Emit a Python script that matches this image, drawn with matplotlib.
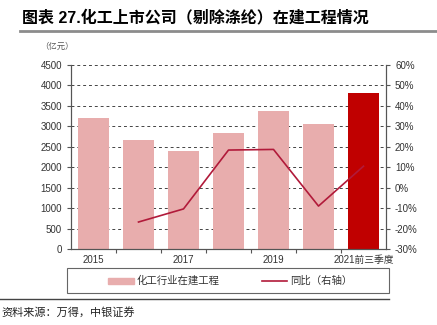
import matplotlib.pyplot as plt
import matplotlib.patches as patches
import matplotlib.lines as mlines

plt.rcParams['font.family'] = ['Liberation Sans', 'Noto Sans CJK SC', 'DejaVu Sans']

years = ["2015", "2016", "2017", "2018", "2019", "2020", "2021前三季度"]
construction = [3200, 2670, 2400, 2840, 3375, 3060, 3815]  # 亿元
yoy_years = ["2016", "2017", "2018", "2019", "2020", "2021前三季度"]
yoy = [-16.8, -10.4, 18.4, 18.7, -9.0, 10.5]  # %

bar_color = "#E8ADAD"
last_color = "#C00000"
line_color = "#B11A3A"
axis_color = "#555555"

fig = plt.figure(figsize=(4.37, 3.25), dpi=100)
ax = fig.add_axes([71 / 437, 1 - 249 / 325, 315 / 437, 184 / 325])

xs = list(range(len(years)))
colors = [bar_color] * (len(years) - 1) + [last_color]
ax.bar(xs, construction, width=0.67, color=colors, zorder=2)
ax.set_ylim(0, 4500)
ax.set_yticks(range(0, 4501, 500))
ax.set_xlim(-0.5, len(years) - 0.5)
ax.yaxis.grid(True, linestyle=(0, (3, 3)), color="#444444", linewidth=0.7, zorder=0)
ax.set_axisbelow(True)

# ticks sit between categories, labels sit on every other category
ax.set_xticks([x + 0.5 for x in xs[:-1]])
ax.set_xticklabels([])
ax.tick_params(axis="x", which="major", length=3, color=axis_color)
ax.set_xticks(xs[::2], minor=True)
ax.set_xticklabels(years[::2], minor=True)
ax.tick_params(axis="x", which="minor", length=0, pad=4, labelsize=7, labelcolor="#333333")
ax.tick_params(axis="y", length=3, color=axis_color, labelsize=7, labelcolor="#333333")

ax2 = ax.twinx()
ax2.plot([years.index(y) for y in yoy_years], yoy, color=line_color, linewidth=1.2, zorder=3)
ax2.set_ylim(-30, 60)
ax2.set_yticks(range(-30, 61, 10))
ax2.set_yticklabels([f"{v}%" for v in range(-30, 61, 10)])
ax2.tick_params(axis="y", length=3, color=axis_color, labelsize=7, labelcolor="#333333")

for a in (ax, ax2):
    a.spines["top"].set_visible(False)
    for s in ("left", "right", "bottom"):
        a.spines[s].set_color(axis_color)
        a.spines[s].set_linewidth(0.8)

# title and header rule
fig.text(22 / 437, 1 - 17 / 325, "图表 27.化工上市公司（剔除涤纶）在建工程情况",
         fontsize=11.5, fontweight="bold", va="center", ha="left",
         family=["Liberation Sans", "Noto Sans CJK SC"])
fig.add_artist(mlines.Line2D([20 / 437, 1], [1 - 31 / 325] * 2, color="#8C8C8C", linewidth=2))
fig.text(40 / 437, 1 - 46 / 325, "（亿元）", fontsize=6, color="#555555", va="center", ha="left",
         family=["Noto Sans CJK SC"])

# legend box
fig.add_artist(patches.Rectangle((67 / 437, 1 - 293 / 325), 322 / 437, 25 / 325,
                                 transform=fig.transFigure, fill=False,
                                 edgecolor="#666666", linewidth=0.8))
ly = 1 - 281 / 325
fig.add_artist(patches.Rectangle((108 / 437, ly - 3 / 325), 26 / 437, 6 / 325,
                                 transform=fig.transFigure, color=bar_color))
fig.text(137 / 437, ly, "化工行业在建工程", fontsize=7.5, va="center", ha="left",
         family=["Noto Sans CJK SC"], color="#333333")
fig.add_artist(mlines.Line2D([262 / 437, 287 / 437], [ly, ly], color=line_color, linewidth=1.2))
fig.text(290 / 437, ly, "同比（右轴）", fontsize=7.5, va="center", ha="left",
         family=["Noto Sans CJK SC"], color="#333333")

# footer rule and source
fig.add_artist(mlines.Line2D([0, 389 / 437], [1 - 299 / 325] * 2, color="#444444", linewidth=1))
fig.text(1 / 437, 1 - 312 / 325, "资料来源：万得，中银证券", fontsize=8, style="italic",
         va="center", ha="left", family=["Noto Sans CJK SC"], color="#222222")

fig.savefig("out.png", dpi=100)
